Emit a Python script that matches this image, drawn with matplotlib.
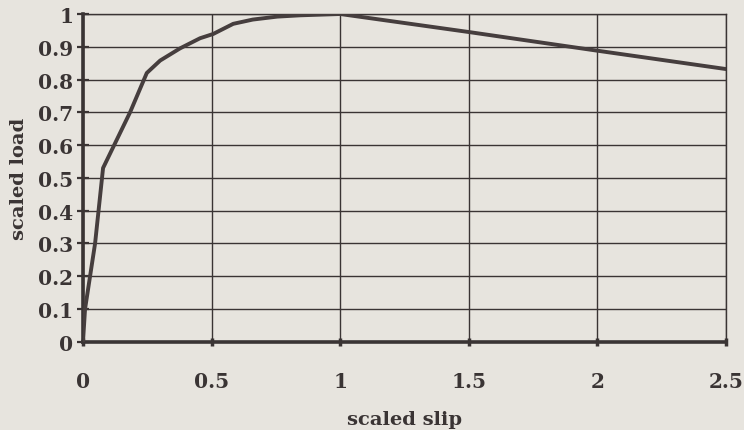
import matplotlib.pyplot as plt

# curve
slip = [0.0, 0.008, 0.047, 0.078, 0.183, 0.248, 0.30, 0.377, 0.455, 0.506, 0.584, 0.66,
        0.755, 0.844, 1.0, 1.5, 2.0, 2.5]
load = [0.0, 0.1, 0.3, 0.53, 0.70, 0.82, 0.858, 0.895, 0.926, 0.939, 0.97, 0.983,
        0.992, 0.996, 1.0, 0.945, 0.888, 0.832]

x_ticks = [0, 0.5, 1, 1.5, 2, 2.5]
x_labels = ["0", "0.5", "1", "1.5", "2", "2.5"]
y_ticks = [0, 0.1, 0.2, 0.3, 0.4, 0.5, 0.6, 0.7, 0.8, 0.9, 1]
y_labels = ["0", "0.1", "0.2", "0.3", "0.4", "0.5", "0.6", "0.7", "0.8", "0.9", "1"]

paper = "#e7e4de"
ink = "#3a3434"

plt.rcParams["font.family"] = ["DejaVu Serif"]
fig = plt.figure(figsize=(7.44, 4.31), dpi=100, facecolor=paper)
ax = fig.add_axes([83 / 744, 1 - 342.7 / 431, (726 - 83) / 744, (342.7 - 15) / 431])
ax.set_facecolor(paper)

ax.plot(slip, load, color="#463e3e", lw=2.8, solid_joinstyle="round", zorder=3)

ax.set_xlim(0, 2.5)
ax.set_ylim(0, 1)
ax.set_xticks(x_ticks)
ax.set_xticklabels(x_labels)
ax.set_yticks(y_ticks)
ax.set_yticklabels(y_labels)
ax.grid(True, color=ink, lw=1.0)

for side in ["top", "right"]:
    ax.spines[side].set_linewidth(1.0)
    ax.spines[side].set_color(ink)
for side in ["left", "bottom"]:
    ax.spines[side].set_linewidth(2.6)
    ax.spines[side].set_color(ink)

ax.tick_params(axis="y", direction="inout", length=8, width=1.6, color=ink, pad=3,
               labelsize=14.5, labelcolor=ink)
ax.tick_params(axis="x", direction="inout", length=6, width=2.5, color=ink, pad=18,
               labelsize=14.5, labelcolor=ink)
for lbl in ax.get_xticklabels() + ax.get_yticklabels():
    lbl.set_fontweight("bold")

ax.set_xlabel("scaled slip", fontsize=14, fontweight="bold", color=ink, labelpad=14)
ax.set_ylabel("scaled load", fontsize=14, fontweight="bold", color=ink, labelpad=7)

fig.savefig("out.png", dpi=100, facecolor=paper)
